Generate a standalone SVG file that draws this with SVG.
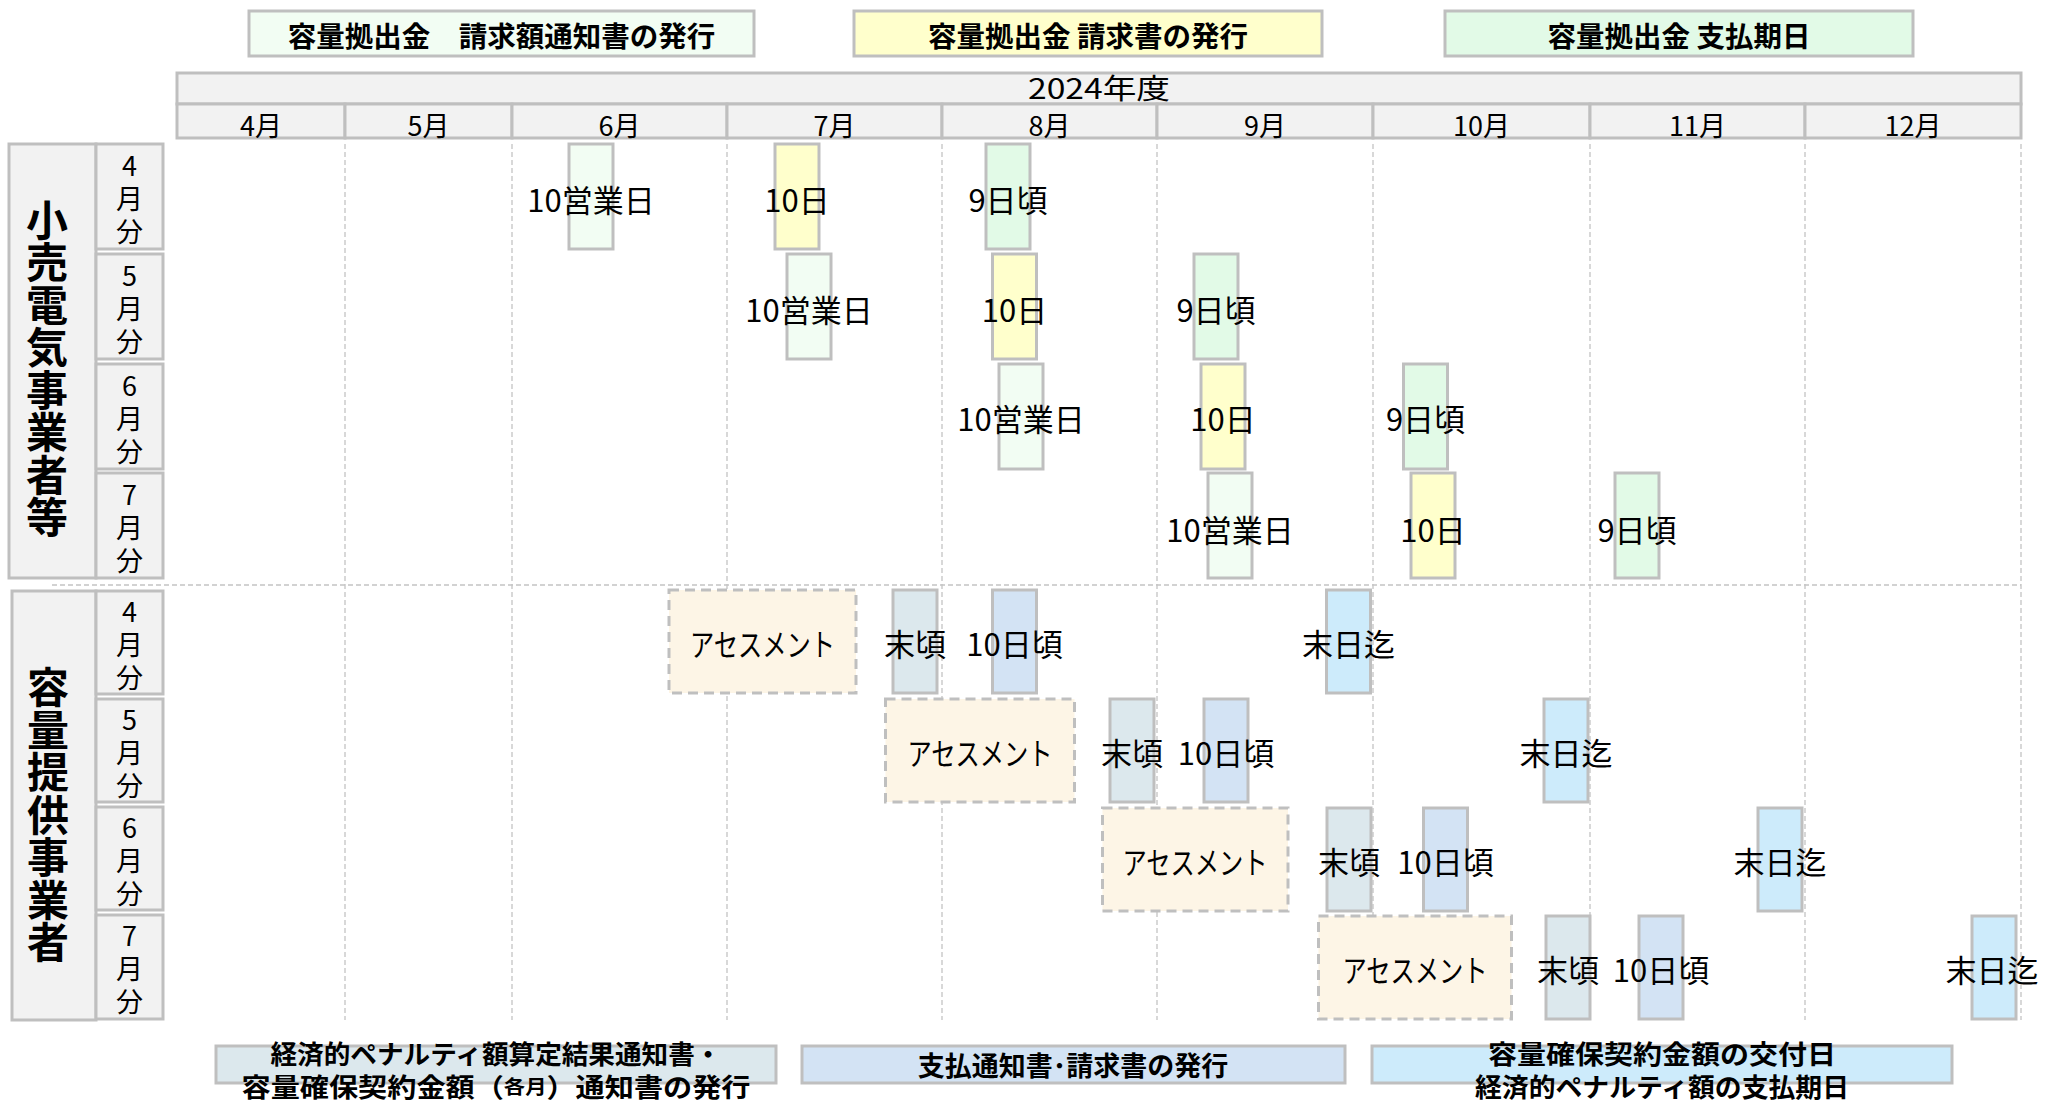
<svg xmlns="http://www.w3.org/2000/svg" width="2045" height="1101" viewBox="0 0 2045 1101">
<style>
text{font-family:"Noto Sans CJK JP","Noto Sans",sans-serif;fill:#000;dominant-baseline:central;text-anchor:middle}
.bx{stroke:#BFBFBF;stroke-width:3}
.hd{fill:#F2F2F2}
.l1{fill:#F2FDF3}
.yl{fill:#FFFFCC}
.gr{fill:#E2FAE7}
.as{fill:#FDF5E6;stroke:#BFBFBF;stroke-width:3;stroke-dasharray:10 6}
.ms{fill:#DCE8ED}
.td{fill:#D3E3F4}
.md{fill:#CDEBFB}
.lg{font-size:28.5px;font-weight:700}
.bl{font-size:27px;font-weight:700}
.bl2{font-size:26px;font-weight:700}
.t{font-size:31px}
.mo{font-size:27px}
.vt{writing-mode:vertical-rl;text-orientation:upright}
.big{font-size:42px;font-weight:700;letter-spacing:0.5px}
.sub{font-size:27px;letter-spacing:6px}
.grid{stroke:#C4C4C4;stroke-width:1.3;stroke-dasharray:5 3;fill:none}
</style>

<g id="legend-top">
  <g id="legend-seikyugaku"><rect class="bx l1" x="249" y="11" width="505" height="45"/><text class="lg" x="501.5" y="34">容量拠出金　請求額通知書の発行</text></g>
  <g id="legend-seikyusho"><rect class="bx yl" x="854" y="11" width="468" height="45"/><text class="lg" x="1088" y="34">容量拠出金 請求書の発行</text></g>
  <g id="legend-shiharai"><rect class="bx gr" x="1445" y="11" width="468" height="45"/><text class="lg" x="1679" y="34">容量拠出金 支払期日</text></g>
</g>

<g id="header">
  <rect class="bx hd" x="177" y="73" width="1844" height="31"/>
  <text x="1099" y="87" style="font-size:28px" textLength="142" lengthAdjust="spacingAndGlyphs">2024年度</text>
  <rect class="bx hd" x="177" y="104" width="168" height="34"/><text class="mo" x="261" y="124">4月</text>
  <rect class="bx hd" x="345" y="104" width="167" height="34"/><text class="mo" x="428.5" y="124">5月</text>
  <rect class="bx hd" x="512" y="104" width="215" height="34"/><text class="mo" x="619.5" y="124">6月</text>
  <rect class="bx hd" x="727" y="104" width="215" height="34"/><text class="mo" x="834.5" y="124">7月</text>
  <rect class="bx hd" x="942" y="104" width="215" height="34"/><text class="mo" x="1049.5" y="124">8月</text>
  <rect class="bx hd" x="1157" y="104" width="216" height="34"/><text class="mo" x="1265" y="124">9月</text>
  <rect class="bx hd" x="1373" y="104" width="217" height="34"/><text class="mo" x="1481.5" y="124">10月</text>
  <rect class="bx hd" x="1590" y="104" width="215" height="34"/><text class="mo" x="1697.5" y="124">11月</text>
  <rect class="bx hd" x="1805" y="104" width="216" height="34"/><text class="mo" x="1913" y="124">12月</text>
</g>

<g id="grid">
  <line class="grid" x1="345" y1="144" x2="345" y2="1020"/>
  <line class="grid" x1="512" y1="144" x2="512" y2="1020"/>
  <line class="grid" x1="727" y1="144" x2="727" y2="1020"/>
  <line class="grid" x1="942" y1="144" x2="942" y2="1020"/>
  <line class="grid" x1="1157" y1="144" x2="1157" y2="1020"/>
  <line class="grid" x1="1373" y1="144" x2="1373" y2="1020"/>
  <line class="grid" x1="1590" y1="144" x2="1590" y2="1020"/>
  <line class="grid" x1="1805" y1="144" x2="1805" y2="1020"/>
  <line class="grid" x1="2021" y1="144" x2="2021" y2="1020"/>
  <line class="grid" x1="52" y1="585" x2="2021" y2="585"/>
</g>

<g id="label-kouri">
  <rect class="bx hd" x="9" y="144" width="87" height="434"/>
  <text class="big vt" x="47" y="369">小売電気事業者等</text>
</g>
<g id="label-kouri-4"><rect class="bx hd" x="96" y="144" width="67" height="105"/><text class="sub vt" x="129.5" y="202">4月分</text></g>
<g id="label-kouri-5"><rect class="bx hd" x="96" y="254" width="67" height="105"/><text class="sub vt" x="129.5" y="312">5月分</text></g>
<g id="label-kouri-6"><rect class="bx hd" x="96" y="364" width="67" height="105"/><text class="sub vt" x="129.5" y="422">6月分</text></g>
<g id="label-kouri-7"><rect class="bx hd" x="96" y="473" width="67" height="105"/><text class="sub vt" x="129.5" y="531">7月分</text></g>

<g id="label-youryou">
  <rect class="bx hd" x="12" y="591" width="84" height="429"/>
  <text class="big vt" x="48" y="815">容量提供事業者</text>
</g>
<g id="label-youryou-4"><rect class="bx hd" x="96" y="591" width="67" height="103"/><text class="sub vt" x="129.5" y="648">4月分</text></g>
<g id="label-youryou-5"><rect class="bx hd" x="96" y="699" width="67" height="103"/><text class="sub vt" x="129.5" y="756">5月分</text></g>
<g id="label-youryou-6"><rect class="bx hd" x="96" y="807" width="67" height="103"/><text class="sub vt" x="129.5" y="864">6月分</text></g>
<g id="label-youryou-7"><rect class="bx hd" x="96" y="915" width="67" height="104"/><text class="sub vt" x="129.5" y="972">7月分</text></g>

<g id="row-kouri-4">
  <g id="k4-a"><rect class="bx l1" x="569" y="144" width="44" height="105"/><text class="t" x="591" y="198">10営業日</text></g>
  <g id="k4-b"><rect class="bx yl" x="775" y="144" width="44" height="105"/><text class="t" x="797" y="198">10日</text></g>
  <g id="k4-c"><rect class="bx gr" x="986" y="144" width="44" height="105"/><text class="t" x="1008" y="198">9日頃</text></g>
</g>
<g id="row-kouri-5">
  <g id="k5-a"><rect class="bx l1" x="787" y="254" width="44" height="105"/><text class="t" x="809" y="308">10営業日</text></g>
  <g id="k5-b"><rect class="bx yl" x="992.5" y="254" width="44" height="105"/><text class="t" x="1014.5" y="308">10日</text></g>
  <g id="k5-c"><rect class="bx gr" x="1194" y="254" width="44" height="105"/><text class="t" x="1216" y="308">9日頃</text></g>
</g>
<g id="row-kouri-6">
  <g id="k6-a"><rect class="bx l1" x="999" y="364" width="44" height="105"/><text class="t" x="1021" y="417">10営業日</text></g>
  <g id="k6-b"><rect class="bx yl" x="1201" y="364" width="44" height="105"/><text class="t" x="1223" y="417">10日</text></g>
  <g id="k6-c"><rect class="bx gr" x="1403.5" y="364" width="44" height="105"/><text class="t" x="1425.5" y="417">9日頃</text></g>
</g>
<g id="row-kouri-7">
  <g id="k7-a"><rect class="bx l1" x="1208" y="473" width="44" height="105"/><text class="t" x="1230" y="528">10営業日</text></g>
  <g id="k7-b"><rect class="bx yl" x="1411" y="473" width="44" height="105"/><text class="t" x="1433" y="528">10日</text></g>
  <g id="k7-c"><rect class="bx gr" x="1615" y="473" width="44" height="105"/><text class="t" x="1637" y="528">9日頃</text></g>
</g>

<g id="row-youryou-4">
  <g id="y4-as"><rect class="as" x="669" y="590" width="187" height="103"/><text class="t" x="762.5" y="642" textLength="145" lengthAdjust="spacingAndGlyphs">アセスメント</text></g>
  <g id="y4-me"><rect class="bx ms" x="893" y="590" width="44" height="103"/><text class="t" x="915" y="642">末頃</text></g>
  <g id="y4-td"><rect class="bx td" x="992.5" y="590" width="44" height="103"/><text class="t" x="1014.5" y="642">10日頃</text></g>
  <g id="y4-md"><rect class="bx md" x="1326.5" y="590" width="44" height="103"/><text class="t" x="1348.5" y="642">末日迄</text></g>
</g>
<g id="row-youryou-5">
  <g id="y5-as"><rect class="as" x="885.5" y="699" width="189" height="103"/><text class="t" x="980" y="751" textLength="145" lengthAdjust="spacingAndGlyphs">アセスメント</text></g>
  <g id="y5-me"><rect class="bx ms" x="1110" y="699" width="44" height="103"/><text class="t" x="1132" y="751">末頃</text></g>
  <g id="y5-td"><rect class="bx td" x="1204" y="699" width="44" height="103"/><text class="t" x="1226" y="751">10日頃</text></g>
  <g id="y5-md"><rect class="bx md" x="1544" y="699" width="44" height="103"/><text class="t" x="1566" y="751">末日迄</text></g>
</g>
<g id="row-youryou-6">
  <g id="y6-as"><rect class="as" x="1102.5" y="808" width="185.5" height="103"/><text class="t" x="1195" y="860" textLength="145" lengthAdjust="spacingAndGlyphs">アセスメント</text></g>
  <g id="y6-me"><rect class="bx ms" x="1327" y="808" width="44" height="103"/><text class="t" x="1349" y="860">末頃</text></g>
  <g id="y6-td"><rect class="bx td" x="1423.5" y="808" width="44" height="103"/><text class="t" x="1445.5" y="860">10日頃</text></g>
  <g id="y6-md"><rect class="bx md" x="1758" y="808" width="44" height="103"/><text class="t" x="1780" y="860">末日迄</text></g>
</g>
<g id="row-youryou-7">
  <g id="y7-as"><rect class="as" x="1318.5" y="916" width="193" height="103"/><text class="t" x="1415" y="968" textLength="145" lengthAdjust="spacingAndGlyphs">アセスメント</text></g>
  <g id="y7-me"><rect class="bx ms" x="1546" y="916" width="44" height="103"/><text class="t" x="1568" y="968">末頃</text></g>
  <g id="y7-td"><rect class="bx td" x="1639" y="916" width="44" height="103"/><text class="t" x="1661" y="968">10日頃</text></g>
  <g id="y7-md"><rect class="bx md" x="1972" y="916" width="44" height="103"/><text class="t" x="1992" y="968">末日迄</text></g>
</g>

<g id="legend-bottom">
  <g id="legend-penalty"><rect class="bx ms" x="216" y="1046" width="560" height="37"/>
    <text class="bl2"><tspan x="496" y="1052" textLength="451" lengthAdjust="spacingAndGlyphs">経済的ペナルティ額算定結果通知書・</tspan><tspan x="496" y="1085" textLength="509" lengthAdjust="spacingAndGlyphs">容量確保契約金額（<tspan style="font-size:19px">各月</tspan>）通知書の発行</tspan></text></g>
  <g id="legend-shiharaitsuchi"><rect class="bx td" x="802" y="1046" width="543" height="37"/><text class="bl" x="1073" y="1064">支払通知書･請求書の発行</text></g>
  <g id="legend-koufu"><rect class="bx md" x="1372" y="1046" width="580" height="37"/>
    <text class="bl2"><tspan x="1662" y="1052" textLength="348" lengthAdjust="spacingAndGlyphs">容量確保契約金額の交付日</tspan><tspan x="1662" y="1085" textLength="374" lengthAdjust="spacingAndGlyphs">経済的ペナルティ額の支払期日</tspan></text></g>
</g>
</svg>
